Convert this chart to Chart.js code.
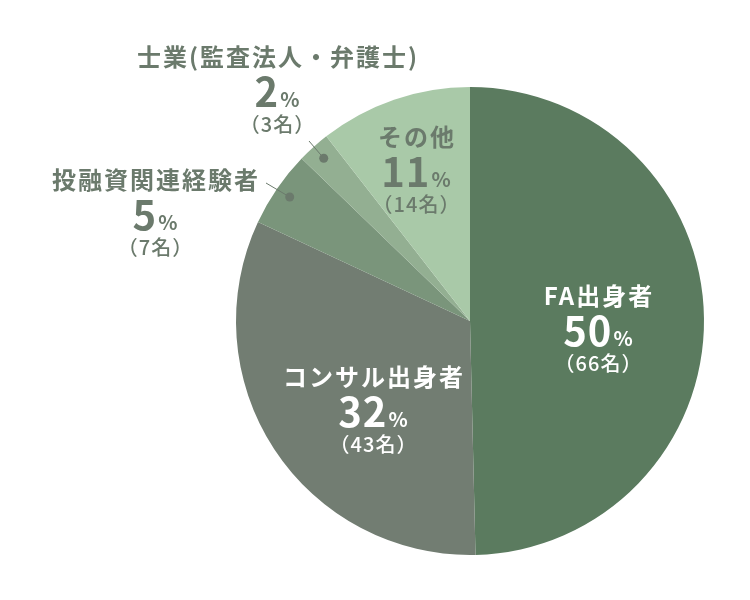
<!DOCTYPE html>
<html lang="ja">
<head>
<meta charset="utf-8">
<script src="https://cdn.jsdelivr.net/npm/chart.js@4/dist/chart.umd.min.js"></script>
<style>
  html, body { margin: 0; padding: 0; background: #fff; }
  #wrap { width: 750px; height: 600px; }
</style>
</head>
<body>
<div id="wrap"><canvas id="graficoPie"></canvas></div>
<script>
// Datos
const categorias = ['FA出身者', 'コンサル出身者', '投融資関連経験者', '士業(監査法人・弁護士)', 'その他'];
const personas = [66, 43, 7, 3, 14];
const porcentajes = [50, 32, 5, 2, 11];
const colores = ['#5b7b5f', '#727d72', '#7a957b', '#93af92', '#a9c9a8'];

// Posición de las etiquetas (centro del bloque de texto) y color del texto
const etiquetas = [
  { x: 598, y: 296, color: '#ffffff', guia: false },
  { x: 373, y: 377, color: '#ffffff', guia: false },
  { x: 155, y: 180, color: '#6b7a6c', guia: true, lx: 266, ly: 183 },
  { x: 277, y: 57,  color: '#6b7a6c', guia: true, lx: 309, ly: 141 },
  { x: 416, y: 137, color: '#6b7a6c', guia: false }
];

const FUENTE = '"Noto Sans CJK JP", "Noto Sans", sans-serif';

function textoCentrado(ctx, txt, x, y, espacio) {
  ctx.letterSpacing = espacio + 'px';
  const w = ctx.measureText(txt).width - espacio;
  ctx.textAlign = 'left';
  ctx.fillText(txt, x - w / 2, y);
}

const pluginEtiquetas = {
  id: 'etiquetas',
  afterDatasetsDraw(chart) {
    const ctx = chart.ctx;
    const arcs = chart.getDatasetMeta(0).data;
    ctx.save();
    arcs.forEach((arc, i) => {
      const e = etiquetas[i];
      // punto y línea guía para los sectores pequeños
      if (e.guia) {
        const mid = (arc.startAngle + arc.endAngle) / 2;
        const r = arc.outerRadius * 0.935;
        const px = arc.x + Math.cos(mid) * r;
        const py = arc.y + Math.sin(mid) * r;
        ctx.strokeStyle = '#6b7a6c';
        ctx.lineWidth = 1;
        ctx.beginPath();
        ctx.moveTo(px, py);
        ctx.lineTo(e.lx, e.ly);
        ctx.stroke();
        ctx.fillStyle = '#6b7a6c';
        ctx.beginPath();
        ctx.arc(px, py, 4.5, 0, Math.PI * 2);
        ctx.fill();
      }
      ctx.fillStyle = e.color;
      // nombre
      ctx.textBaseline = 'middle';
      ctx.font = '700 24px ' + FUENTE;
      textoCentrado(ctx, categorias[i], e.x, e.y, 2);
      // porcentaje: número grande + % pequeño
      const num = String(porcentajes[i]);
      ctx.textBaseline = 'alphabetic';
      ctx.letterSpacing = '1px';
      ctx.font = '700 40px ' + FUENTE;
      const wNum = ctx.measureText(num).width;
      ctx.letterSpacing = '0px';
      ctx.font = '700 20px ' + FUENTE;
      const wPct = ctx.measureText('%').width;
      const x0 = e.x - (wNum + wPct + 1) / 2;
      ctx.textAlign = 'left';
      ctx.letterSpacing = '1px';
      ctx.font = '700 40px ' + FUENTE;
      ctx.fillText(num, x0, e.y + 50);
      ctx.letterSpacing = '0px';
      ctx.font = '700 20px ' + FUENTE;
      ctx.fillText('%', x0 + wNum + 1, e.y + 50);
      // cantidad de personas
      ctx.textBaseline = 'middle';
      ctx.font = '500 20px ' + FUENTE;
      textoCentrado(ctx, '（' + personas[i] + '名）', e.x, e.y + 67, 1);
    });
    ctx.restore();
  }
};

const ctxPie = document.getElementById('graficoPie').getContext('2d');
new Chart(ctxPie, {
  type: 'pie',
  data: {
    labels: categorias,
    datasets: [{
      data: personas,
      backgroundColor: colores,
      borderWidth: 0
    }]
  },
  options: {
    responsive: true,
    maintainAspectRatio: false,
    animation: false,
    layout: {
      padding: { left: 236, right: 46, top: 87, bottom: 45 }
    },
    plugins: {
      legend: { display: false },
      tooltip: { enabled: false }
    }
  },
  plugins: [pluginEtiquetas]
});
</script>
</body>
</html>
